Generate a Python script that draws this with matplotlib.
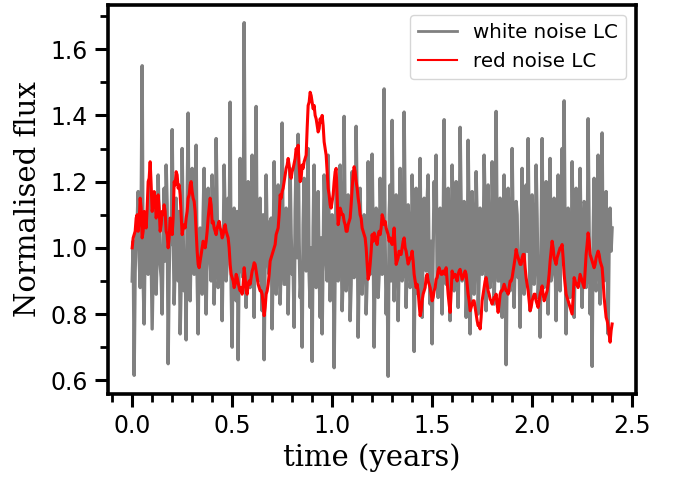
import numpy as np
import matplotlib
matplotlib.use("Agg")
import matplotlib.pyplot as plt
from matplotlib.ticker import MultipleLocator, FormatStrFormatter

# time grid (years), one sample every 0.005 yr
t_start, t_end, n_samples = 0.0, 2.40, 481

# white-noise light curve: samples at t = 0.00, 0.01, ... (even samples)
white_flux_a = [
    0.90, 0.615, 1.05, 1.17, 0.88, 1.55, 0.77, 1.10, 0.92, 1.21,
    0.755, 1.12, 0.86, 1.22, 0.95, 0.80, 1.18, 1.25, 0.65, 1.08,
    1.357, 0.83, 1.15, 0.90, 0.74, 1.30, 0.87, 0.722, 1.407, 0.84,
    1.24, 0.92, 1.31, 0.74, 1.06, 0.86, 1.24, 0.80, 1.18, 0.96,
    1.22, 0.83, 1.33, 0.88, 1.05, 0.78, 1.25, 0.90, 1.15, 1.44,
    0.70, 1.12, 0.84, 0.662, 1.27, 0.93, 1.68, 0.82, 1.20, 0.88,
    1.28, 0.79, 1.427, 0.90, 1.15, 0.81, 0.662, 1.22, 0.95, 1.08,
    0.755, 1.26, 0.86, 1.19, 0.83, 1.377, 0.89, 1.12, 0.80, 1.24,
    0.92, 0.76, 1.27, 1.343, 0.85, 0.70, 1.21, 0.93, 1.30, 0.82,
    0.657, 1.25, 0.88, 1.17, 0.79, 0.74, 1.22, 0.96, 1.28, 0.84,
    1.10, 0.638, 1.20, 0.90, 1.25, 0.81, 1.397, 0.87, 1.16, 0.78,
    1.23, 0.91, 1.367, 0.73, 1.18, 0.86, 1.10, 0.80, 1.26, 0.92,
    1.283, 0.70, 1.12, 0.85, 1.21, 0.92, 1.48, 0.80, 0.612, 1.19,
    1.385, 0.84, 1.16, 0.78, 1.24, 0.90, 1.41, 0.82, 1.13, 0.88,
    1.22, 0.687, 1.18, 0.86, 1.27, 0.79, 1.15, 0.93, 1.22, 0.83,
    0.71, 1.20, 1.28, 0.85, 1.12, 0.80, 1.387, 0.89, 1.18, 0.78,
    1.25, 0.87, 1.20, 0.82, 1.364, 0.90, 1.14, 0.79, 1.325, 0.74,
    1.17, 0.86, 1.23, 0.80, 1.12, 0.92, 1.28, 0.81, 1.19, 0.88,
    1.26, 0.83, 1.412, 0.90, 1.15, 0.79, 1.22, 0.647, 1.18, 0.87,
    1.30, 0.82, 1.14, 0.91, 0.76, 1.24, 0.86, 1.19, 1.33, 0.81,
    1.16, 0.89, 1.25, 0.85, 0.73, 1.33, 0.88, 1.20, 0.80, 1.27,
    0.92, 1.15, 0.78, 1.22, 0.87, 1.30, 1.444, 0.74, 1.12, 0.85,
    1.26, 0.79, 1.18, 0.90, 1.24, 0.82, 1.14, 0.88, 1.39, 0.80,
    0.642, 1.21, 0.87, 1.28, 0.83, 1.347, 0.90, 1.17, 0.74, 1.12,
    1.06,
]
# white-noise light curve: samples at t = 0.005, 0.015, ... (odd samples)
white_flux_b = [
    1.02, 0.93, 1.08, 0.97, 1.12, 0.90, 1.04, 0.95, 1.10, 0.98,
    0.94, 1.06, 0.99, 1.09, 0.91, 1.03, 0.96, 1.13, 0.92, 1.01,
    1.07, 0.95, 1.00, 1.11, 0.89, 1.05, 0.97, 1.14, 0.93, 1.02,
    0.98, 1.08, 0.91, 1.04, 0.96, 1.10, 0.94, 1.00, 1.07, 0.90,
    1.05, 0.97, 1.12, 0.92, 1.03, 0.99, 1.09, 0.95, 1.01, 0.88,
    1.06, 0.94, 1.11, 0.98, 1.02, 0.91, 1.08, 0.96, 1.13, 0.93,
    1.00, 1.07, 0.95, 1.04, 0.90, 1.10, 0.97, 1.03, 0.92, 1.09,
    0.99, 1.05, 0.93, 1.12, 0.96, 1.01, 0.89, 1.08, 0.98, 1.04,
    0.94, 1.11, 0.97, 1.02, 0.91, 1.07, 0.95, 1.14, 0.92, 1.00,
    1.06, 0.96, 1.09, 0.93, 1.03, 0.98, 1.10, 0.90, 1.05, 0.97,
    1.01, 0.94, 1.12, 0.99, 1.04, 0.92, 1.08, 0.95, 1.02, 0.89,
    1.07, 0.97, 1.13, 0.93, 1.00, 0.96, 1.09, 0.91, 1.05, 0.98,
    1.03, 0.95, 1.11, 0.92, 1.06, 0.99, 1.02, 0.94, 1.10, 0.90,
    1.04, 0.97, 1.08, 0.96, 1.01, 0.93, 1.12, 0.98, 1.05, 0.91,
    1.07, 0.95, 1.00, 1.09, 0.92, 1.03, 0.96, 1.14, 0.94, 1.02,
    0.99, 1.06, 0.90, 1.11, 0.97, 1.04, 0.93, 1.08, 0.95, 1.01,
    1.10, 0.92, 1.05, 0.98, 1.13, 0.94, 1.02, 0.89, 1.07, 0.96,
    1.03, 0.99, 1.09, 0.91, 1.06, 0.95, 1.12, 0.97, 1.00, 0.93,
    1.08, 0.96, 1.04, 0.90, 1.11, 0.98, 1.02, 0.94, 1.07, 0.92,
    1.05, 0.97, 1.10, 0.95, 1.01, 0.93, 1.13, 0.99, 1.04, 0.91,
    1.06, 0.96, 1.09, 0.92, 1.03, 0.98, 1.12, 0.94, 1.00, 0.90,
    1.08, 0.97, 1.05, 0.93, 1.11, 0.95, 1.02, 0.99, 1.07, 0.91,
    1.04, 0.96, 1.10, 0.94, 1.01, 0.98, 1.13, 0.92, 1.06, 0.95,
    1.03, 0.90, 1.09, 0.97, 1.05, 0.93, 1.12, 0.96, 1.00, 0.99,
]

# red-noise light curve: samples at t = 0.00, 0.01, ...
red_flux_a = [
    1.00, 1.04, 1.09, 1.05, 1.15, 1.03, 1.11, 1.06, 1.20, 1.26,
    1.11, 1.17, 1.09, 1.16, 1.05, 1.11, 1.13, 1.05, 1.00, 1.09,
    1.04, 1.20, 1.23, 1.18, 1.16, 1.04, 1.07, 1.09, 1.15, 1.19,
    1.17, 1.14, 1.05, 0.95, 0.96, 1.00, 1.01, 1.02, 1.09, 1.15,
    1.075, 1.06, 1.04, 1.07, 1.06, 1.03, 1.06, 1.05, 1.03, 0.95,
    0.91, 0.88, 0.92, 0.895, 0.87, 0.86, 0.94, 0.87, 0.89, 0.89,
    0.93, 0.955, 0.93, 0.89, 0.87, 0.86, 0.795, 0.86, 0.89, 0.96,
    0.98, 1.00, 1.04, 1.06, 1.16, 1.17, 1.20, 1.24, 1.27, 1.22,
    1.23, 1.255, 1.30, 1.31, 1.20, 1.25, 1.26, 1.28, 1.43, 1.47,
    1.44, 1.43, 1.39, 1.35, 1.39, 1.40, 1.32, 1.28, 1.18, 1.13,
    1.14, 1.20, 1.24, 1.07, 1.12, 1.10, 1.08, 1.05, 1.07, 1.09,
    1.18, 1.245, 1.20, 1.15, 1.10, 1.06, 1.04, 1.00, 0.905, 0.95,
    1.04, 1.045, 1.02, 1.04, 1.04, 1.10, 1.07, 1.06, 1.04, 1.03,
    1.01, 1.06, 0.95, 0.97, 0.98, 1.00, 1.03, 0.99, 0.951, 0.97,
    0.99, 0.92, 0.88, 0.87, 0.795, 0.84, 0.87, 0.91, 0.90, 0.88,
    0.84, 0.87, 0.905, 0.93, 0.93, 0.92, 0.93, 0.94, 0.86, 0.805,
    0.93, 0.92, 0.91, 0.92, 0.935, 0.905, 0.92, 0.92, 0.86, 0.81,
    0.83, 0.84, 0.80, 0.765, 0.755, 0.84, 0.88, 0.91, 0.87, 0.845,
    0.83, 0.85, 0.86, 0.805, 0.86, 0.87, 0.89, 0.87, 0.86, 0.90,
    0.91, 0.95, 0.995, 0.97, 0.95, 0.97, 0.98, 0.91, 0.87, 0.81,
    0.84, 0.86, 0.84, 0.82, 0.86, 0.885, 0.84, 0.86, 0.89, 0.96,
    1.02, 0.97, 0.95, 0.98, 1.00, 1.01, 0.92, 0.86, 0.84, 0.82,
    0.80, 0.91, 0.89, 0.88, 0.92, 0.90, 0.88, 0.98, 1.045, 0.98,
    0.96, 0.94, 0.97, 0.99, 0.96, 0.94, 0.85, 0.79, 0.765, 0.715,
    0.77,
]
# red-noise light curve: samples at t = 0.005, 0.015, ...
red_flux_b = [
    1.03, 1.05, 1.10, 1.08, 1.12, 1.05, 1.10, 1.12, 1.21, 1.19,
    1.13, 1.15, 1.11, 1.12, 1.07, 1.10, 1.11, 1.04, 1.03, 1.08,
    1.09, 1.19, 1.22, 1.19, 1.10, 1.06, 1.06, 1.11, 1.16, 1.20,
    1.15, 1.11, 0.99, 0.94, 0.98, 1.02, 1.00, 1.05, 1.12, 1.13,
    1.08, 1.05, 1.06, 1.08, 1.05, 1.04, 1.07, 1.04, 1.00, 0.92,
    0.90, 0.89, 0.91, 0.88, 0.88, 0.89, 0.91, 0.86, 0.90, 0.91,
    0.94, 0.95, 0.91, 0.88, 0.87, 0.83, 0.82, 0.87, 0.92, 0.97,
    0.99, 1.01, 1.05, 1.10, 1.15, 1.18, 1.22, 1.25, 1.25, 1.21,
    1.24, 1.27, 1.29, 1.25, 1.21, 1.24, 1.27, 1.36, 1.44, 1.46,
    1.42, 1.40, 1.37, 1.36, 1.38, 1.37, 1.30, 1.23, 1.16, 1.12,
    1.16, 1.23, 1.15, 1.09, 1.11, 1.10, 1.07, 1.05, 1.08, 1.13,
    1.22, 1.23, 1.18, 1.13, 1.09, 1.05, 1.03, 0.95, 0.92, 0.99,
    1.02, 1.03, 1.01, 1.05, 1.06, 1.09, 1.08, 1.05, 1.02, 1.02,
    1.03, 1.00, 0.96, 0.99, 0.98, 1.02, 1.00, 0.97, 0.96, 0.97,
    0.96, 0.90, 0.89, 0.83, 0.81, 0.86, 0.88, 0.92, 0.89, 0.86,
    0.85, 0.88, 0.91, 0.94, 0.92, 0.93, 0.92, 0.90, 0.83, 0.87,
    0.91, 0.92, 0.90, 0.93, 0.92, 0.91, 0.93, 0.89, 0.84, 0.82,
    0.84, 0.82, 0.78, 0.77, 0.79, 0.86, 0.90, 0.89, 0.86, 0.84,
    0.84, 0.85, 0.83, 0.83, 0.87, 0.88, 0.88, 0.87, 0.88, 0.90,
    0.93, 0.97, 0.98, 0.96, 0.95, 0.98, 0.94, 0.89, 0.84, 0.82,
    0.85, 0.86, 0.83, 0.84, 0.87, 0.86, 0.85, 0.87, 0.92, 0.99,
    1.00, 0.96, 0.97, 0.99, 1.00, 0.97, 0.89, 0.85, 0.83, 0.81,
    0.85, 0.90, 0.89, 0.90, 0.91, 0.89, 0.93, 1.01, 1.02, 0.97,
    0.95, 0.95, 0.98, 0.98, 0.95, 0.90, 0.82, 0.78, 0.74, 0.75,
]

series_labels = ["white noise LC", "red noise LC"]
x_label = "time (years)"
y_label = "Normalised flux"

time = np.linspace(t_start, t_end, n_samples)
white_flux = np.empty(n_samples)
white_flux[0::2] = white_flux_a
white_flux[1::2] = white_flux_b
red_flux = np.empty(n_samples)
red_flux[0::2] = red_flux_a
red_flux[1::2] = red_flux_b

fig = plt.figure(figsize=(6.76, 4.79), dpi=100)
ax = fig.add_axes([0.160, 0.1775, 0.781, 0.812])

ax.plot(time, white_flux, color="grey", lw=2.4, label=series_labels[0])
ax.plot(time, red_flux, color="red", lw=2.2, label=series_labels[1])

ax.xaxis.set_major_locator(MultipleLocator(0.5))
ax.xaxis.set_minor_locator(MultipleLocator(0.1))
ax.yaxis.set_major_locator(MultipleLocator(0.2))
ax.yaxis.set_minor_locator(MultipleLocator(0.1))
ax.xaxis.set_major_formatter(FormatStrFormatter("%.1f"))
ax.yaxis.set_major_formatter(FormatStrFormatter("%.1f"))

for s in ax.spines.values():
    s.set_linewidth(2.6)
ax.tick_params(which="major", direction="out", length=9.5, width=2.2,
               labelsize=17, pad=5)
ax.tick_params(which="minor", direction="out", length=5.5, width=2.0)

ax.set_xlabel(x_label, family="DejaVu Serif", fontsize=21, labelpad=4)
ax.set_ylabel(y_label, family="DejaVu Serif", fontsize=21, labelpad=6)

leg = ax.legend(loc="upper right", fontsize=14.3, framealpha=0.8)
leg.get_lines()[0].set_linewidth(2.0)
leg.get_lines()[1].set_linewidth(1.5)

fig.savefig("out.png", dpi=100)
